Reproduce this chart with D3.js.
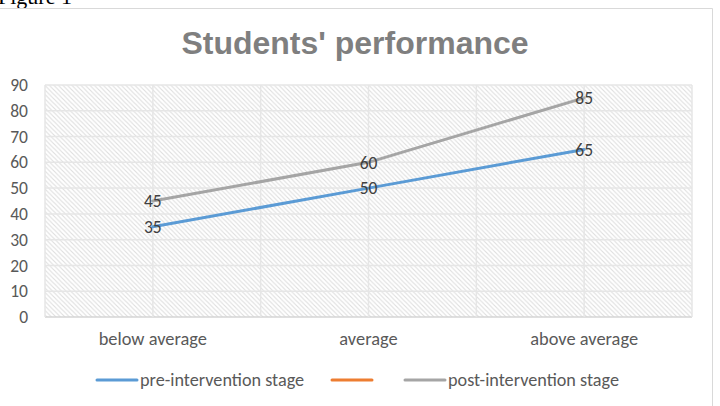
<!DOCTYPE html>
<html>
<head>
<meta charset="utf-8">
<script src="https://cdn.jsdelivr.net/npm/d3@7"></script>
<style>
  body { margin: 0; background: #fff; }
  svg { display: block; }
</style>
</head>
<body>
<div id="chart"></div>
<script>
(function () {
  let width = 720,
    height = 406;

  let categories = ['below average', 'average', 'above average'];
  let preValues = [35, 50, 65];
  let postValues = [45, 60, 85];
  let yTicks = [0, 10, 20, 30, 40, 50, 60, 70, 80, 90];

  let series = [
    { name: 'pre-intervention stage', values: preValues, color: '#5b9bd5' },
    { name: '', values: null, color: '#ed7d31' },
    { name: 'post-intervention stage', values: postValues, color: '#a5a5a5' }
  ];

  let font = 'Calibri, Carlito, Lato, sans-serif';

  let svg = d3.select('#chart').append('svg')
    .attr('width', width)
    .attr('height', height);

  // hatch fill for the plot area
  let defs = svg.append('defs');
  let pat = defs.append('pattern')
    .attr('id', 'hatch')
    .attr('patternUnits', 'userSpaceOnUse')
    .attr('width', 4.5)
    .attr('height', 4.5);
  pat.append('rect').attr('width', 4.5).attr('height', 4.5).attr('fill', '#fff');
  pat.append('path')
    .attr('d', 'M-1,-1L5.5,5.5M-1,3.5L1,5.5M3.5,-1L5.5,1')
    .attr('stroke', '#dedede')
    .attr('stroke-width', 1.1);

  // page text above the chart, cut off as in the scan
  svg.append('text')
    .attr('x', -2)
    .attr('y', 4)
    .style('font-family', '"Liberation Serif", "Times New Roman", serif')
    .style('font-size', '22px')
    .attr('fill', '#000')
    .text('Figure 1');

  // chart border
  svg.append('path')
    .attr('d', 'M0,8.5H712.5V406')
    .attr('fill', 'none')
    .attr('stroke', '#d9d9d9')
    .attr('stroke-width', 1);

  let left = 45, right = 692, top = 85, bottom = 317;

  let x = d3.scaleBand()
    .domain(categories)
    .range([left, right]);

  let y = d3.scaleLinear()
    .domain([0, 90])
    .range([bottom, top]);

  let cx = (d) => x(d) + x.bandwidth() / 2;

  svg.append('rect')
    .attr('x', left)
    .attr('y', top)
    .attr('width', right - left)
    .attr('height', bottom - top)
    .attr('fill', 'url(#hatch)');

  // gridlines
  svg.append('g').selectAll('line.hgrid')
    .data(yTicks).enter()
    .append('line')
    .attr('class', 'hgrid')
    .attr('x1', left)
    .attr('x2', right)
    .attr('y1', (d) => y(d))
    .attr('y2', (d) => y(d))
    .attr('stroke', (d) => d === 0 ? '#d4d4d4' : '#e6e6e6')
    .attr('stroke-width', 1.5);

  let vgrid = [];
  categories.forEach((c) => {
    vgrid.push(x(c));
    vgrid.push(cx(c));
  });
  vgrid.push(right);

  svg.append('g').selectAll('line.vgrid')
    .data(vgrid).enter()
    .append('line')
    .attr('class', 'vgrid')
    .attr('x1', (d) => d)
    .attr('x2', (d) => d)
    .attr('y1', top)
    .attr('y2', bottom)
    .attr('stroke', '#e6e6e6')
    .attr('stroke-width', 1.5);

  // axes
  let yAxis = svg.append('g')
    .attr('transform', 'translate(' + left + ',0)')
    .call(d3.axisLeft(y).tickValues(yTicks).tickSize(0).tickPadding(17));
  yAxis.select('.domain').remove();
  yAxis.selectAll('text')
    .style('font-family', font)
    .style('font-size', '17.5px')
    .attr('fill', '#595959');

  let xAxis = svg.append('g')
    .attr('transform', 'translate(0,' + bottom + ')')
    .call(d3.axisBottom(x).tickSize(0).tickPadding(15));
  xAxis.select('.domain').remove();
  xAxis.selectAll('text')
    .style('font-family', font)
    .style('font-size', '18.4px')
    .attr('fill', '#595959');

  // lines
  let line = d3.line()
    .x((d, i) => cx(categories[i]))
    .y((d) => y(d));

  let plotted = series.filter((s) => s.values);

  svg.append('g').selectAll('path.series')
    .data(plotted).enter()
    .append('path')
    .attr('class', 'series')
    .attr('d', (s) => line(s.values))
    .attr('fill', 'none')
    .attr('stroke', (s) => s.color)
    .attr('stroke-width', 3)
    .attr('stroke-linecap', 'round');

  // data labels
  plotted.forEach((s) => {
    svg.append('g').selectAll('text')
      .data(s.values).enter()
      .append('text')
      .attr('x', (d, i) => cx(categories[i]))
      .attr('y', (d) => y(d))
      .attr('dy', '0.36em')
      .attr('text-anchor', 'middle')
      .style('font-family', font)
      .style('font-size', '17.5px')
      .attr('fill', '#404040')
      .text((d) => d);
  });

  // title
  svg.append('text')
    .attr('x', 355)
    .attr('y', 54)
    .attr('text-anchor', 'middle')
    .style('font-family', '"Liberation Sans", Arial, sans-serif')
    .style('font-weight', 'bold')
    .style('font-size', '32px')
    .attr('fill', '#7f7f7f')
    .text("Students' performance");

  // legend
  let legendX = [97, 332, 405];
  let legend = svg.append('g').selectAll('g.legend')
    .data(series).enter()
    .append('g')
    .attr('class', 'legend')
    .attr('transform', (d, i) => 'translate(' + legendX[i] + ',380)');

  legend.append('line')
    .attr('x1', 0)
    .attr('x2', 40)
    .attr('stroke', (d) => d.color)
    .attr('stroke-width', 3)
    .attr('stroke-linecap', 'round');

  legend.append('text')
    .attr('x', 43)
    .attr('dy', '0.35em')
    .style('font-family', font)
    .style('font-size', '18.2px')
    .attr('fill', '#595959')
    .text((d) => d.name);
})();
</script>
</body>
</html>
